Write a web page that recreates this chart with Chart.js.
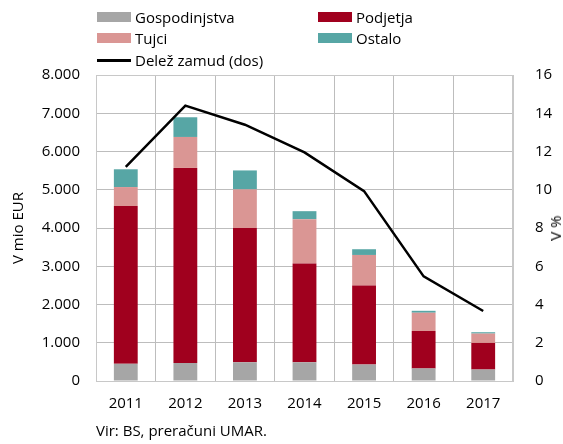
<!DOCTYPE html>
<html>
<head>
<meta charset="utf-8">
<script src="https://cdn.jsdelivr.net/npm/chart.js@4.4.1/dist/chart.umd.min.js"></script>
<style>
    body { margin: 0; background: #fff; font-family: 'Open Sans', sans-serif; }
    #wrap { position: relative; width: 563px; height: 444px; }
    #legend div { position: absolute; font-size: 15px; line-height: 18px; color: #000; white-space: nowrap; }
    #legend span { position: absolute; }
    #rightTitle { position: absolute; left: 555px; top: 228px; font-size: 15px; line-height: 18px;
        transform: translate(-50%, -50%) rotate(-90deg); white-space: nowrap; }
</style>
</head>
<body>
<div id="wrap">
    <canvas id="chart" width="563" height="444"></canvas>
    <div id="legend"></div>
    <div id="rightTitle">V %</div>
</div>
<script>
const years = ['2011', '2012', '2013', '2014', '2015', '2016', '2017'];
const gospodinjstva = [450, 470, 490, 490, 430, 330, 300];
const podjetja = [4125, 5100, 3510, 2580, 2065, 975, 695];
const tujci = [495, 810, 1010, 1160, 800, 480, 245];
const ostalo = [465, 515, 495, 210, 150, 50, 35];
const delezZamud = [11.2, 14.4, 13.4, 11.95, 9.93, 5.47, 3.66];

const colors = {
    gospodinjstva: '#a6a6a6',
    podjetja: '#a0001e',
    tujci: '#da9694',
    ostalo: '#57a6a5'
};

Chart.defaults.font.family = "'Open Sans', sans-serif";
Chart.defaults.font.size = 15;
Chart.defaults.color = '#000';

const gridStyle = {
    color: '#bdbdbd',
    lineWidth: 1,
    borderDash: [1, 2],
    drawTicks: false
};

// light grey frame around the plot area
const framePlugin = {
    id: 'frame',
    beforeDatasetsDraw(chart) {
        const a = chart.chartArea;
        const ctx = chart.ctx;
        ctx.save();
        ctx.strokeStyle = '#c8c8c8';
        ctx.lineWidth = 1;
        ctx.strokeRect(a.left + 0.5, a.top + 0.5, a.right - a.left - 1, a.bottom - a.top);
        ctx.restore();
    }
};

function barSet(label, data, color) {
    return {
        type: 'bar',
        label: label,
        data: data,
        backgroundColor: color,
        yAxisID: 'y',
        order: 1,
        categoryPercentage: 1,
        barPercentage: 0.4
    };
}

const ctx = document.getElementById('chart').getContext('2d');
window.loanChart = new Chart(ctx, {
    data: {
        labels: years,
        datasets: [
            {
                type: 'line',
                label: 'Delež zamud (dos)',
                data: delezZamud,
                borderColor: '#000',
                borderWidth: 2.5,
                pointRadius: 0,
                tension: 0,
                yAxisID: 'y2',
                order: 0
            },
            barSet('Gospodinjstva', gospodinjstva, colors.gospodinjstva),
            barSet('Podjetja', podjetja, colors.podjetja),
            barSet('Tujci', tujci, colors.tujci),
            barSet('Ostalo', ostalo, colors.ostalo)
        ]
    },
    options: {
        responsive: false,
        animation: false,
        layout: { padding: { top: 75, left: 0, right: 0, bottom: 0 } },
        plugins: {
            legend: { display: false },
            tooltip: { enabled: false }
        },
        scales: {
            x: {
                stacked: true,
                grid: gridStyle,
                border: { display: true, color: '#c8c8c8' },
                ticks: { padding: 14 },
                title: {
                    display: true,
                    text: 'Vir: BS, preračuni UMAR.',
                    align: 'start',
                    padding: { top: 0, bottom: 3 }
                },
                afterFit: function(scale) { scale.height = 63; }
            },
            y: {
                stacked: true,
                min: 0,
                max: 8000,
                position: 'left',
                grid: gridStyle,
                border: { display: true, color: '#c8c8c8' },
                ticks: {
                    stepSize: 1000,
                    padding: 16,
                    callback: function(value) {
                        return value.toString().replace(/\B(?=(\d{3})+(?!\d))/g, '.');
                    }
                },
                title: {
                    display: true,
                    text: 'V mio EUR',
                    padding: { top: 10, bottom: 0 }
                },
                afterFit: function(scale) { scale.width = 96; }
            },
            y2: {
                min: 0,
                max: 16,
                position: 'right',
                grid: { display: false, drawTicks: false },
                border: { display: true, color: '#c8c8c8' },
                ticks: { stepSize: 2, padding: 22 },
                afterFit: function(scale) { scale.width = 50; }
            }
        }
    },
    plugins: [framePlugin]
});

// legend in two columns, plus the line entry underneath
const legendItems = [
    { label: 'Gospodinjstva', color: colors.gospodinjstva, x: 97, y: 17 },
    { label: 'Podjetja', color: colors.podjetja, x: 318, y: 17 },
    { label: 'Tujci', color: colors.tujci, x: 97, y: 38 },
    { label: 'Ostalo', color: colors.ostalo, x: 318, y: 38 },
    { label: 'Delež zamud (dos)', color: '#000', x: 97, y: 60, line: true }
];
const legend = document.getElementById('legend');
legendItems.forEach(item => {
    const sw = document.createElement('span');
    const h = item.line ? 3 : 10;
    sw.style.cssText = `left:${item.x}px;top:${item.y - h / 2}px;width:34px;height:${h}px;background:${item.color}`;
    legend.appendChild(sw);
    const txt = document.createElement('div');
    txt.textContent = item.label;
    txt.style.left = (item.x + 38) + 'px';
    txt.style.top = (item.y - 9.5) + 'px';
    legend.appendChild(txt);
});
</script>
</body>
</html>
